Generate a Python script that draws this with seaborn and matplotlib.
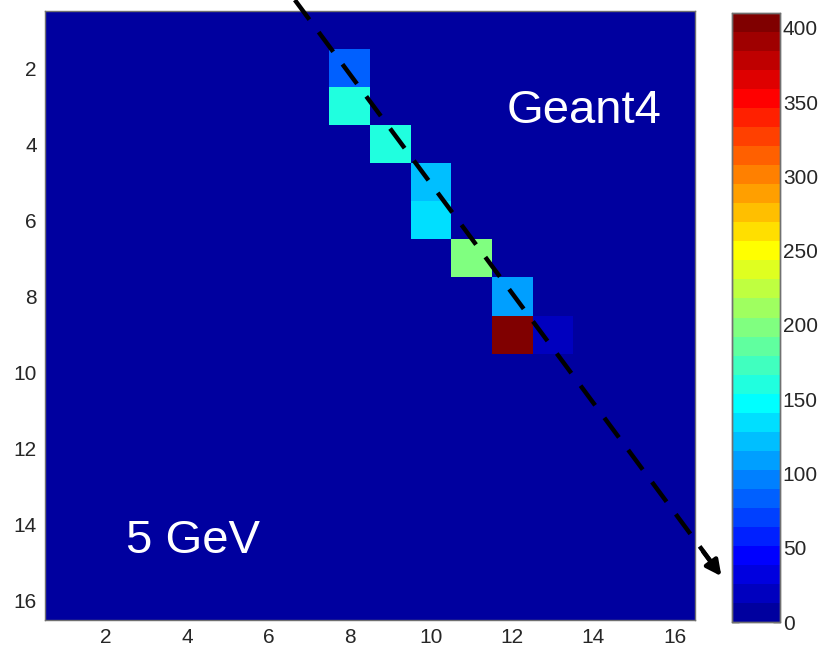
import numpy as np
import pandas as pd
import matplotlib
matplotlib.use("Agg")
import matplotlib.pyplot as plt
from matplotlib.colors import ListedColormap
import seaborn as sns

# Energy deposit per cell (1-based row/column of the 16x16 grid)
hit_rows = [2, 3, 4, 5, 6, 7, 8, 9, 9]
hit_cols = [8, 8, 9, 10, 10, 11, 12, 12, 13]
hit_vals = [85, 160, 160, 120, 135, 200, 110, 405, 20]

grid_size = 16
axis_ticks = [2, 4, 6, 8, 10, 12, 14, 16]
cbar_ticks = [0, 50, 100, 150, 200, 250, 300, 350, 400]
v_min, v_max = 0, 410


def matlab_jet(m=32):
    n = int(np.ceil(m / 4))
    u = np.concatenate([np.arange(1, n + 1) / n, np.ones(n - 1), np.arange(n, 0, -1) / n])
    g = int(np.ceil(n / 2)) - (1 if m % 4 == 1 else 0) + np.arange(1, len(u) + 1)
    r = g + n
    b = g - n
    cols = np.zeros((m, 3))
    for idx, arr in ((0, r), (1, g), (2, b)):
        ok = (arr >= 1) & (arr <= m)
        cols[arr[ok] - 1, idx] = u[ok]
    return ListedColormap(cols)


energy = np.zeros((grid_size, grid_size))
for r, c, v in zip(hit_rows, hit_cols, hit_vals):
    energy[r - 1, c - 1] = v
labels = list(range(1, grid_size + 1))
df = pd.DataFrame(energy, index=labels, columns=labels)

sns.set_style("white")
plt.rcParams["font.family"] = ["Liberation Sans", "DejaVu Sans"]

W, H = 831, 651
fig = plt.figure(figsize=(W / 100, H / 100), dpi=100)
ax = fig.add_axes([45 / W, 1 - 620 / H, 650 / W, 609 / H])
cax = fig.add_axes([732 / W, 1 - 622 / H, 48 / W, 609 / H])

sns.heatmap(df, ax=ax, cmap=matlab_jet(32), vmin=v_min, vmax=v_max,
            cbar=True, cbar_ax=cax, square=False, xticklabels=False, yticklabels=False)

tick_color = "#262626"
ax.set_xticks([t - 0.5 for t in axis_ticks])
ax.set_xticklabels([str(t) for t in axis_ticks])
ax.set_yticks([t - 0.5 for t in axis_ticks])
ax.set_yticklabels([str(t) for t in axis_ticks], rotation=0)
ax.tick_params(direction="in", length=5, width=1, color="black",
               top=True, right=True, labelsize=15, labelcolor=tick_color, pad=6)
ax.set_xlabel("")
ax.set_ylabel("")
for s in ax.spines.values():
    s.set_visible(True)
    s.set_color("#707070")
    s.set_linewidth(1)

cax.set_yticks(cbar_ticks)
cax.tick_params(direction="in", length=5, width=1, color="black",
                left=True, right=True, labelsize=15, labelcolor=tick_color, pad=2)
for s in cax.spines.values():
    s.set_visible(True)
    s.set_color("#707070")
    s.set_linewidth(1)

ax.text(2.0, 14.25, "5 GeV", color="white", fontsize=34, ha="left", va="baseline")
ax.text(11.37, 2.95, "Geant4", color="white", fontsize=34, ha="left", va="baseline")

# dashed trajectory across the grid, ending in an arrow head outside the axes
x0, y0 = 6.15, -0.29
x1, y1 = 16.45, 14.55
ax.plot([x0, x1], [y0, y1], color="black", lw=3.2, ls=(0, (5.5, 3.5)),
        clip_on=False, zorder=5)
ax.annotate("", xy=(16.65, 14.85), xytext=(16.2, 14.2),
            arrowprops=dict(arrowstyle="-|>,head_length=0.9,head_width=0.45",
                            color="black", lw=3.2, shrinkA=0, shrinkB=0),
            annotation_clip=False, zorder=6)

fig.savefig("out.png", dpi=100)
